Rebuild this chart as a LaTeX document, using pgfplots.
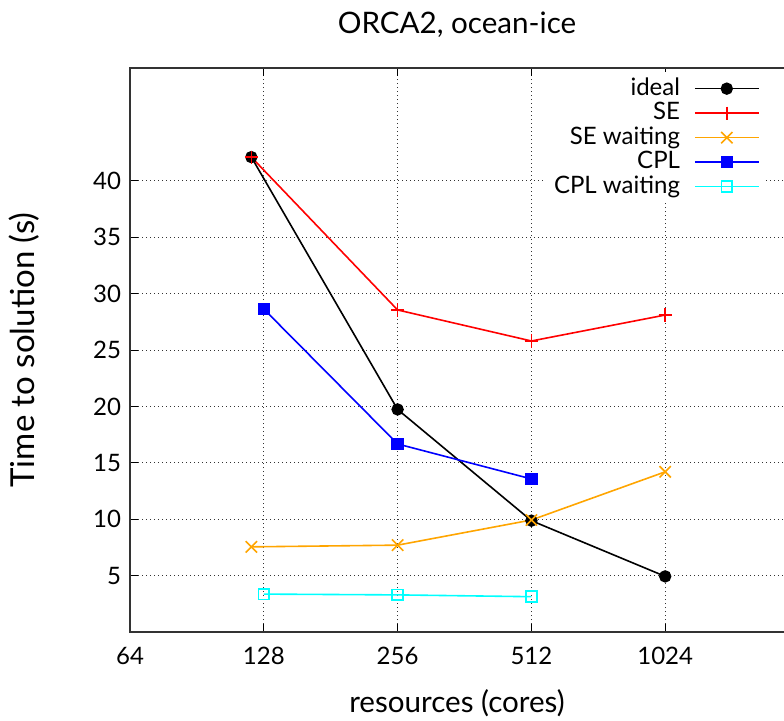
\documentclass[border=0pt]{standalone}
\usepackage{pgfplots}
\pgfplotsset{compat=1.18}
\usepackage{fontspec}
\setmainfont{Lato}

\definecolor{gporange}{RGB}{255,165,0}
\definecolor{gpcyan}{RGB}{0,255,255}

% 1 px of the reference = 0.5pt
\begin{document}
\begin{tikzpicture}[font=\fontsize{12}{14}\selectfont]
\begin{axis}[
    name=ax,
    at={(65pt,44pt)}, anchor=south west,
    width=327pt, height=282pt, scale only axis,
    xmode=log, log basis x=2,
    xmin=64, xmax=1895,
    ymin=0, ymax=50,
    xtick={64,128,256,512,1024},
    xticklabels={64,128,256,512,1024},
    ytick={5,10,...,40},
    ytick pos=left,
    tick align=inside,
    major tick length=4pt,
    tick style={black, line width=0.5pt},
    /pgf/number format/assume math mode=true,
    yticklabel style={xshift=-1pt},
    xticklabel style={yshift=-4pt},
    grid=major,
    grid style={black!80, line width=0.5pt, dash pattern=on 0.5pt off 1.5pt},
    axis line style={draw=none},
    title={ORCA2, ocean-ice},
    every axis title/.style={at={(axis description cs:0.5,1)}, anchor=base,
        yshift=17.5pt, font=\fontsize{14.8}{17}\selectfont},
    xlabel={resources (cores)},
    every axis x label/.style={at={(axis description cs:0.5,0)}, anchor=base,
        yshift=-40pt, font=\fontsize{14.8}{17}\selectfont},
    ylabel={Time to solution (s)},
    every axis y label/.style={at={([xshift=-48pt]axis description cs:0,0.5)},
        rotate=90, anchor=base, font=\fontsize{16.5}{19}\selectfont},
    legend style={
        at={(rel axis cs:1,1)}, anchor=north east, xshift=-9pt, yshift=-2pt,
        draw=none, fill=white,
        cells={anchor=east},
        nodes={text height=8.5pt, text depth=1.75pt, inner sep=1pt},
        /tikz/every odd column/.append style={column sep=6pt},
    },
    legend plot pos=right,
    legend image code/.code={
        \draw[mark repeat=2, mark phase=2, #1]
            plot coordinates {(0pt,0pt) (16pt,0pt) (32pt,0pt)};
    },
    every axis plot/.append style={line width=0.8pt},
]
% ideal scaling from the 120-core run
\addplot[black, mark=*, mark size=2.7pt] coordinates {
    (120,42.1) (256,19.73) (512,9.87) (1024,4.93)
};
\addlegendentry{ideal}
\addplot[red, mark=+, mark size=3.3pt] coordinates {
    (120,42.1) (256,28.55) (512,25.8) (1024,28.1)
};
\addlegendentry{SE}
\addplot[gporange, mark=x, mark size=4pt] coordinates {
    (120,7.55) (256,7.7) (512,9.93) (1024,14.2)
};
\addlegendentry{SE waiting}
\addplot[blue, mark=square*, mark size=2.7pt] coordinates {
    (128,28.63) (256,16.67) (512,13.57)
};
\addlegendentry{CPL}
\addplot[gpcyan, mark=square, mark size=2.7pt] coordinates {
    (128,3.36) (256,3.29) (512,3.13)
};
\addlegendentry{CPL waiting}
\end{axis}
\draw[black!80, line width=1pt]
    (ax.north east) -- (ax.north west) -- (ax.south west) -- (ax.south east);
\pgfresetboundingbox
\useasboundingbox (0,0) rectangle (392pt,360pt);
\end{tikzpicture}
\end{document}
